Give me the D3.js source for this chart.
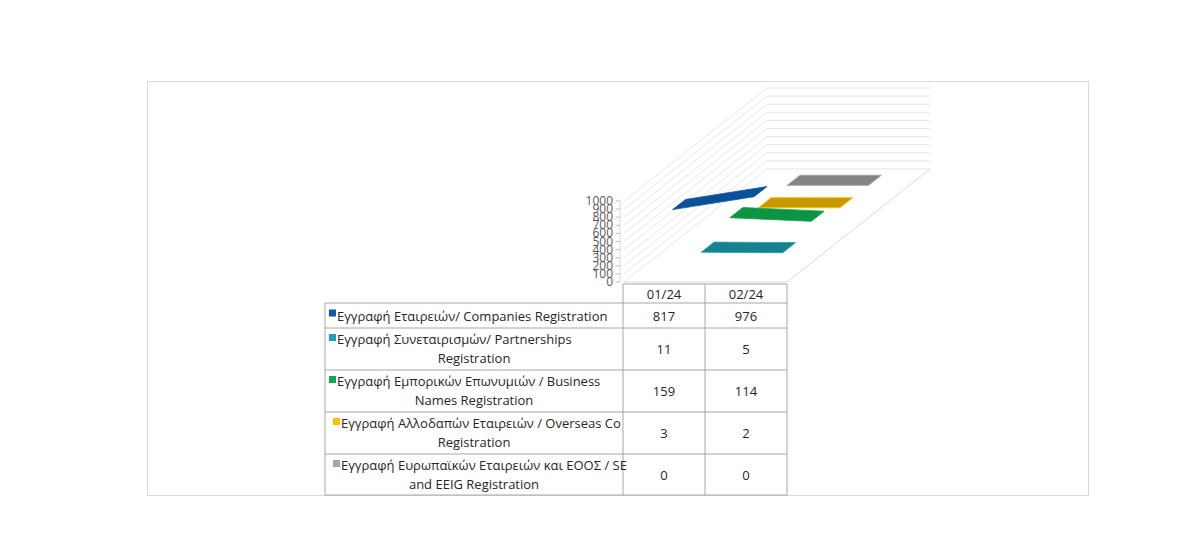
<!DOCTYPE html>
<html><head><meta charset="utf-8">
<script src="https://cdn.jsdelivr.net/npm/d3@7"></script>
<style>body{margin:0;background:#fff}svg{font-family:"Open Sans","Liberation Sans",sans-serif}</style>
</head><body><svg id="c" width="1200" height="536"></svg>
<script>
const categories = ["01/24","02/24"];
const seriesNames = [
 ["Εγγραφή  Εταιρειών/ Companies Registration"],
 ["Εγγραφή  Συνεταιρισμών/ Partnerships","Registration"],
 ["Εγγραφή  Εμπορικών Επωνυμιών / Business","Names Registration"],
 ["Εγγραφή  Αλλοδαπών  Εταιρειών / Overseas Co","Registration"],
 ["Εγγραφή  Ευρωπαϊκών Εταιρειών και ΕΟΟΣ / SE","and EEIG Registration"]
];
const companies = [817, 976];
const partnerships = [11, 5];
const businessNames = [159, 114];
const overseas = [3, 2];
const europeanSE = [0, 0];
const yTicks = [0,100,200,300,400,500,600,700,800,900,1000];
const legendColors = ["#0b5cad","#1fa2b0","#10a550","#ffc000","#a6a6a6"];
const ribbonColors = ["#0b4f96","#17818f","#0a9444","#c99a00","#858585"];
const seriesValues = [companies, partnerships, businessNames, overseas, europeanSE];

const svg = d3.select("#c");
svg.append("rect").attr("x",147.5).attr("y",81.5).attr("width",941).attr("height",414).attr("fill","#fff").attr("stroke","#d9d9d9");

const x0 = 624, x1 = 787, floorY = 282;
const DX = 143, DY = -113;
const y = d3.scaleLinear().domain([0,1000]).range([floorY, 201]);
const xb = d3.scaleBand().domain(categories).range([x0, x1]);
const xc = c => xb(c) + xb.bandwidth()/2;
const depth = d3.scaleBand().domain(d3.range(5)).range([0,1]);
const g = svg.append("g");

yTicks.forEach(t => {
  const yy = y(t);
  g.append("path").attr("d",`M${x0},${yy}L${x0+DX},${yy+DY}L${x1+DX},${yy+DY}`)
   .attr("fill","none").attr("stroke","#e6e6e6");
});
g.append("path").attr("d",`M${x0},${floorY}L${x1},${floorY}L${x1+DX},${floorY+DY}`)
  .attr("fill","none").attr("stroke","#d9d9d9");

g.append("line").attr("x1",x0-4).attr("x2",x0-4).attr("y1",y(0)).attr("y2",y(1000)).attr("stroke","#d9d9d9");
yTicks.forEach(t => {
  g.append("line").attr("x1",x0-8).attr("x2",x0-4).attr("y1",y(t)).attr("y2",y(t)).attr("stroke","#bfbfbf");
  g.append("text").attr("x",x0-11).attr("y",y(t)+4).attr("text-anchor","end")
   .attr("font-size",12).attr("fill","#595959").text(t);
});

for (let i = 4; i >= 0; i--) {
  const vals = seriesValues[i];
  const dc = depth(i) + depth.bandwidth()/2, hw = 0.045;
  const p = (c, v, d) => [xc(c) + DX*d, y(v) + DY*d];
  const a = p(categories[0], vals[0], dc-hw), b = p(categories[1], vals[1], dc-hw),
        c2 = p(categories[1], vals[1], dc+hw), d2 = p(categories[0], vals[0], dc+hw);
  g.append("path").attr("d",`M${a}L${b}L${c2}L${d2}Z`).attr("fill",ribbonColors[i])
   .attr("stroke",legendColors[i]).attr("stroke-width",0.8);
}

const colX = [325, 623, 705, 787];
const rowY = [284, 303, 328, 370, 412, 454, 495];
const tg = svg.append("g").attr("font-size",13).attr("fill","#262626");
const ln = (xa,ya,xb2,yb) => tg.append("line").attr("x1",xa).attr("y1",ya).attr("x2",xb2).attr("y2",yb).attr("stroke","#a6a6a6");
ln(colX[1],rowY[0],colX[3],rowY[0]);
[1,2,3].forEach(k=>ln(colX[k],rowY[0],colX[k],rowY[6]));
ln(colX[0],rowY[1],colX[0],rowY[6]);
rowY.slice(1).forEach(r=>ln(colX[0],r,colX[3],r));
categories.forEach((c,k)=>tg.append("text").attr("x",(colX[k+1]+colX[k+2])/2).attr("y",rowY[0]+15).attr("text-anchor","middle").text(c));
seriesNames.forEach((lines,i)=>{
  const top=rowY[i+1], bot=rowY[i+2], mid=(top+bot)/2;
  const left=colX[0]+4+(i>=3?4:0);
  tg.append("rect").attr("x",left).attr("y",(lines.length===1?mid:top+12)-6).attr("width",7).attr("height",7).attr("fill",legendColors[i]);
  if (lines.length===1) {
    tg.append("text").attr("x",left+8).attr("y",mid+5).text(lines[0]);
  } else {
    tg.append("text").attr("x",left+8).attr("y",top+16).text(lines[0]);
    tg.append("text").attr("x",(colX[0]+colX[1])/2).attr("y",top+35).attr("text-anchor","middle").text(lines[1]);
  }
  seriesValues[i].forEach((v,k)=>tg.append("text").attr("x",(colX[k+1]+colX[k+2])/2).attr("y",mid+5).attr("text-anchor","middle").text(v));
});
</script></body></html>
